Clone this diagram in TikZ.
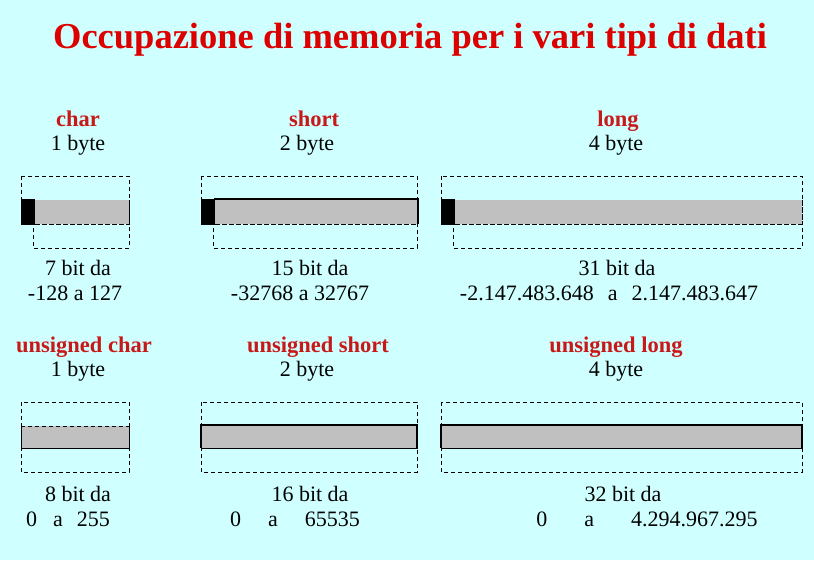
\documentclass[tikz,border=0pt]{standalone}
\usepackage{fontspec}
\setmainfont{Liberation Serif}
\definecolor{sfondo}{RGB}{208,255,255}
\definecolor{rossotitolo}{RGB}{220,0,0}
\definecolor{rossotipo}{RGB}{200,25,25}
\definecolor{grigiobarra}{RGB}{192,192,192}

\begin{document}
\begin{tikzpicture}[x=1pt,y=-1pt,
		tipo/.style={font=\fontsize{22.5}{22.5}\selectfont\bfseries, text=rossotipo, anchor=base, inner sep=0pt},
		testo/.style={font=\fontsize{22}{22}\selectfont, anchor=base, inner sep=0pt},
		cornice/.style={dash pattern=on 4pt off 3pt, line width=0.8pt},
		bordo/.style={line width=2pt}]
	% Background
	\fill[sfondo] (0,0) rectangle (814,560);
	\useasboundingbox (0,0) rectangle (814,560);
	% Title
	\node[font=\fontsize{36.5}{36.5}\selectfont\bfseries, text=rossotitolo, anchor=base, inner sep=0pt]
		(titolo) at (410,48) {Occupazione di memoria per i vari tipi di dati};
	% Signed types
	\foreach \l/\r in {21/129,201/417,441/802}{
		\draw[cornice] (\l,176) rectangle (\r,224);
		\draw[cornice] (\l+12,200) rectangle (\r,248);
		\fill[grigiobarra] (\l,200) rectangle (\r,224);
		\fill[black] (\l,199) rectangle (\l+14,225);
		\draw[cornice] (\l+14,224) -- (\r,224);
	}
	\draw[line width=1pt] (129,200) -- (129,224);
	\draw[bordo] (214,199) -- (418,199) -- (418,224);
	% Unsigned types
	\foreach \l/\r in {21/129,201/417,441/802}{
		\draw[cornice] (\l,402) rectangle (\r,448);
		\draw[cornice] (\l,426) rectangle (\r,472);
		\fill[grigiobarra] (\l,426) rectangle (\r,448);
		\draw[cornice] (\l,448) -- (\r,448);
	}
	\draw[cornice] (21,426) -- (129,426);
	\draw[line width=1pt] (21,426) -- (21,448) (129,426) -- (129,448);
	\foreach \l/\r in {201/417,441/802}
		\draw[bordo] (\l,448) -- (\l,425) -- (\r,425) -- (\r,448);
	% Labels of the signed types
	\node[tipo] (char) at (78,126) {char};
	\node[testo] (charbyte) at (78,150) {1 byte};
	\node[testo] (charbit) at (78,275) {7 bit da};
	\node[testo] (charrange) at (75,300) {-128 a 127};
	\node[tipo] (short) at (314,126) {short};
	\node[testo] (shortbyte) at (307,150) {2 byte};
	\node[testo] (shortbit) at (310,275) {15 bit da};
	\node[testo] (shortrange) at (300,300) {-32768 a 32767};
	\node[tipo] (long) at (618,126) {long};
	\node[testo] (longbyte) at (616,150) {4 byte};
	\node[testo] (longbit) at (617,275) {31 bit da};
	\node[testo] (longrange) at (609,300) {-2.147.483.648\hspace{14pt}a\hspace{14pt}2.147.483.647};
	% Labels of the unsigned types
	\node[tipo] (uchar) at (84,352) {unsigned char};
	\node[testo] (ucharbyte) at (78,376) {1 byte};
	\node[testo] (ucharbit) at (78,501) {8 bit da};
	\node[testo] (ucharrange) at (68,526) {0\hspace{16pt}a\hspace{14pt}255};
	\node[tipo] (ushort) at (318,352) {unsigned short};
	\node[testo] (ushortbyte) at (307,376) {2 byte};
	\node[testo] (ushortbit) at (310,501) {16 bit da};
	\node[testo] (ushortrange) at (295,526) {0\hspace{27pt}a\hspace{27pt}65535};
	\node[tipo] (ulong) at (616,352) {unsigned long};
	\node[testo] (ulongbyte) at (616,376) {4 byte};
	\node[testo] (ulongbit) at (623,501) {32 bit da};
	\node[testo] (ulongrange) at (647,526) {0\hspace{37pt}a\hspace{37pt}4.294.967.295};
\end{tikzpicture}
\end{document}
